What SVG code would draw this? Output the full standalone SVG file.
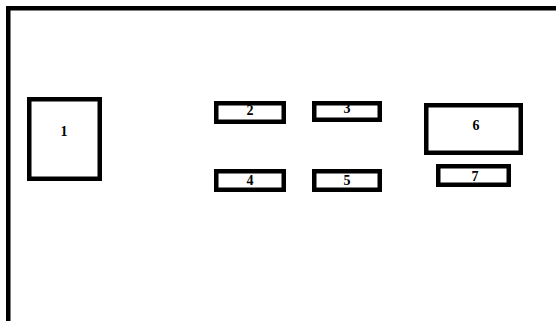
<svg xmlns="http://www.w3.org/2000/svg" width="556" height="321" viewBox="0 0 556 321">
<style>
.frame{fill:#fff;stroke:#000;stroke-width:4.5}
.box{fill:#fff;stroke:#000;stroke-width:4.5}
.lbl{font-family:"Liberation Serif",serif;font-weight:bold;font-size:14px;text-anchor:middle;fill:#000}
</style>
<rect x="0" y="0" width="556" height="321" fill="#fff"/>
<rect class="frame" x="8.25" y="8.25" width="600" height="400"/>
<g id="node1"><rect class="box" x="29.25" y="99.25" width="70.5" height="79.5"/><text class="lbl" x="64" y="136">1</text></g>
<g id="node2"><rect class="box" x="216.25" y="103.25" width="67.5" height="18.5"/><text class="lbl" x="250" y="115">2</text></g>
<g id="node3"><rect class="box" x="314.25" y="103.25" width="65.5" height="16.5"/><text class="lbl" x="347" y="113">3</text></g>
<g id="node4"><rect class="box" x="216.25" y="171.25" width="67.5" height="18.5"/><text class="lbl" x="250" y="185">4</text></g>
<g id="node5"><rect class="box" x="314.25" y="171.25" width="65.5" height="18.5"/><text class="lbl" x="347" y="185">5</text></g>
<g id="node6"><rect class="box" x="426.25" y="105.25" width="94.5" height="47.5"/><text class="lbl" x="476" y="130">6</text></g>
<g id="node7"><rect class="box" x="438.25" y="166.25" width="70.5" height="18.5"/><text class="lbl" x="475" y="181">7</text></g>
<g id="connectors"></g>
</svg>
